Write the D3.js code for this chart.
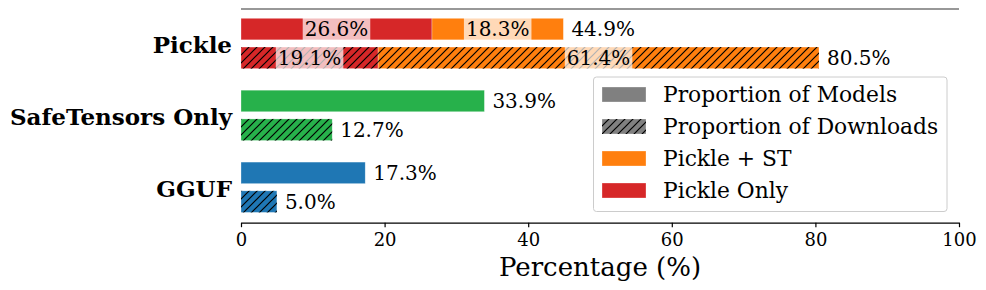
<!DOCTYPE html>
<html>
<head>
<meta charset="utf-8">
<script src="https://cdn.jsdelivr.net/npm/d3@7"></script>
<style>
  body { margin: 0; background: #fff; }
  svg { display: block; font-family: "DejaVu Serif", serif; }
</style>
</head>
<body>
<div id="chart"></div>
<script>
// data
var categories = ["Pickle", "SafeTensors Only", "GGUF"];
var modelShare = [44.9, 33.9, 17.3];       // proportion of models (%)
var downloadShare = [80.5, 12.7, 5.0];     // proportion of downloads (%)
var catColors = [null, "#27b14b", "#1f77b4"];

// pickle split: [Pickle Only, Pickle + ST]
var pickleParts = ["Pickle Only", "Pickle + ST"];
var pickleModels = [26.6, 18.3];
var pickleDownloads = [19.1, 61.4];
var pickleColors = ["#d62728", "#ff7f0e"];

var xTicks = [0, 20, 40, 60, 80, 100];

var legendLabels = ["Proportion of Models", "Proportion of Downloads", "Pickle + ST", "Pickle Only"];
var legendColors = ["#808080", "#808080", "#ff7f0e", "#d62728"];
var legendHatch = [false, true, false, false];

//Width and height
var w = 986;
var h = 290;

var x = d3.scaleLinear().domain([0, 100]).range([241, 959]);
var y = d3.scaleLinear().domain([-0.479, 2.493]).range([9, 222.7]);
var barH = 0.3;
var off = 0.2;

var svg = d3.select("#chart").append("svg")
    .attr("width", w)
    .attr("height", h);

// hatch pattern
var defs = svg.append("defs");
var pat = defs.append("pattern")
    .attr("id", "hatch")
    .attr("patternUnits", "userSpaceOnUse")
    .attr("width", 8).attr("height", 8);
pat.append("path")
    .attr("d", "M-2,2 L2,-2 M0,8 L8,0 M6,10 L10,6")
    .attr("stroke", "#000")
    .attr("stroke-width", 1.2);

var bars = svg.append("g");
var labels = svg.append("g");

function barY(i, kind) {
    var c = i + (kind == 0 ? -off : off);
    return y(c - barH / 2);
}
var bh = y(barH) - y(0);

function drawBar(x0, x1, yy, color, hatched) {
    bars.append("rect")
        .attr("x", x(x0)).attr("y", yy)
        .attr("width", x(x1) - x(x0)).attr("height", bh)
        .attr("fill", color)
        .attr("stroke", "rgba(255,255,255,0.5)")
        .attr("stroke-width", 0.6);
    if (hatched) {
        bars.append("rect")
            .attr("x", x(x0)).attr("y", yy)
            .attr("width", x(x1) - x(x0)).attr("height", bh)
            .attr("fill", "url(#hatch)");
    }
}

function endLabel(v, yy) {
    labels.append("text")
        .attr("x", x(v) + 8)
        .attr("y", yy + bh / 2)
        .attr("dy", "0.36em")
        .attr("font-size", 20)
        .text(v.toFixed(1) + "%");
}

function midLabel(x0, x1, v, yy) {
    var t = labels.append("text")
        .attr("x", (x(x0) + x(x1)) / 2)
        .attr("y", yy + bh / 2)
        .attr("dy", "0.36em")
        .attr("text-anchor", "middle")
        .attr("font-size", 20)
        .text(v.toFixed(1) + "%");
    var b = t.node().getBBox();
    labels.insert("rect", function () { return t.node(); })
        .attr("x", b.x - 2).attr("y", b.y - 2)
        .attr("width", b.width + 4).attr("height", b.height + 4)
        .attr("fill", "#fff").attr("fill-opacity", 0.7);
}

// Pickle: stacked
[pickleModels, pickleDownloads].forEach(function (parts, k) {
    var yy = barY(0, k);
    var start = 0;
    parts.forEach(function (v, j) {
        drawBar(start, start + v, yy, pickleColors[j], k == 1);
        midLabel(start, start + v, v, yy);
        start += v;
    });
    endLabel(k == 0 ? modelShare[0] : downloadShare[0], yy);
});

// other formats
for (var i = 1; i < categories.length; i++) {
    drawBar(0, modelShare[i], barY(i, 0), catColors[i], false);
    endLabel(modelShare[i], barY(i, 0));
    drawBar(0, downloadShare[i], barY(i, 1), catColors[i], true);
    endLabel(downloadShare[i], barY(i, 1));
}

// category labels
svg.append("g").selectAll("text")
    .data(categories).enter()
    .append("text")
    .attr("x", 232)
    .attr("y", function (d, i) { return y(i) + 1; })
    .attr("dy", "0.36em")
    .attr("text-anchor", "end")
    .attr("font-size", 23)
    .attr("font-weight", "bold")
    .text(function (d) { return d; });

// top spine
svg.append("line")
    .attr("x1", x(0)).attr("x2", x(100))
    .attr("y1", y.range()[0]).attr("y2", y.range()[0])
    .attr("stroke", "#333").attr("stroke-width", 1.2);

// x axis
var ax = svg.append("g")
    .attr("transform", "translate(0," + y.range()[1] + ")")
    .call(d3.axisBottom(x).tickValues(xTicks).tickSize(4.5).tickSizeOuter(0).tickPadding(6.5));
ax.select(".domain").attr("stroke", "#000").attr("stroke-width", 1.2);
ax.selectAll(".tick line").attr("stroke", "#000").attr("stroke-width", 1.2);
ax.selectAll(".tick text")
    .attr("font-family", "DejaVu Serif")
    .attr("font-size", 18)
    .attr("fill", "#000");

svg.append("text")
    .attr("x", (x(0) + x(100)) / 2)
    .attr("y", 276)
    .attr("text-anchor", "middle")
    .attr("font-size", 26)
    .text("Percentage (%)");

// legend
var lg = svg.append("g");
lg.append("rect")
    .attr("x", 593.5).attr("y", 77)
    .attr("width", 353.5).attr("height", 134.5)
    .attr("rx", 3)
    .attr("fill", "#fff").attr("fill-opacity", 0.8)
    .attr("stroke", "#ccc").attr("stroke-width", 1);

legendLabels.forEach(function (d, i) {
    var cy = 94.5 + i * 32;
    lg.append("rect")
        .attr("x", 602).attr("y", cy - 7.5)
        .attr("width", 44).attr("height", 15)
        .attr("fill", legendColors[i])
        .attr("stroke", "rgba(255,255,255,0.5)").attr("stroke-width", 0.6);
    if (legendHatch[i]) {
        lg.append("rect")
            .attr("x", 602).attr("y", cy - 7.5)
            .attr("width", 44).attr("height", 15)
            .attr("fill", "url(#hatch)");
    }
    lg.append("text")
        .attr("x", 663)
        .attr("y", cy)
        .attr("dy", "0.36em")
        .attr("font-size", 21.8)
        .text(d);
});
</script>
</body>
</html>
